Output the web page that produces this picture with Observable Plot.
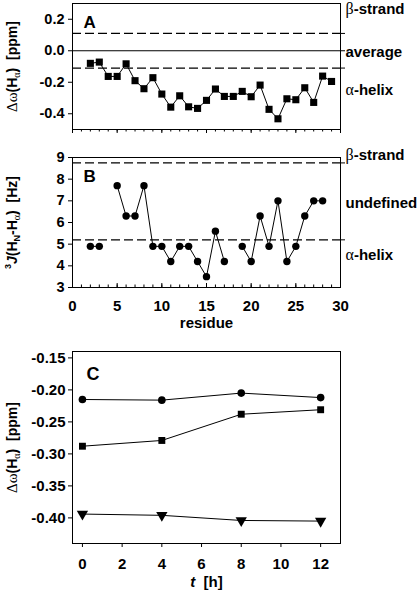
<!DOCTYPE html>
<html>
<head>
<meta charset="utf-8">
<script src="https://cdn.jsdelivr.net/npm/d3@7"></script>
<script src="https://cdn.jsdelivr.net/npm/@observablehq/plot@0.6"></script>
<style>
  html, body { margin: 0; padding: 0; background: #fff; }
  #wrap { position: relative; width: 420px; height: 591px; overflow: hidden; background: #fff; }
  #wrap > svg { position: absolute; left: 0; }
  #wrap text, #wrap tspan { fill: #000; }
</style>
</head>
<body>
<div id="wrap"></div>
<script>
// ---------- Panel A data ----------
const residuesA = [2,3,4,5,6,7,8,9,10,11,12,13,14,15,16,17,18,19,20,21,22,23,24,25,26,27,28,29];
const shiftA = [-0.08,-0.072,-0.163,-0.163,-0.083,-0.19,-0.241,-0.171,-0.275,-0.358,-0.286,-0.356,-0.366,-0.315,-0.243,-0.29,-0.29,-0.258,-0.292,-0.218,-0.372,-0.432,-0.305,-0.311,-0.235,-0.328,-0.161,-0.195];
const thresholdsA = [0.11, -0.11];
const rightLabelsA = ["β-strand", "average", "α-helix"];
const rightLabelYA = [0.262, -0.01, -0.248];
const yTicksA = [-0.4, -0.2, 0, 0.2];

// ---------- Panel B data ----------
const residuesB = [2,3,5,6,7,8,9,10,11,12,13,14,15,16,17,19,20,21,22,23,24,25,26,27,28];
const couplingB = [4.9,4.9,7.7,6.3,6.3,7.7,4.9,4.9,4.2,4.9,4.9,4.2,3.5,5.6,4.2,4.9,4.2,6.3,4.9,7.0,4.2,4.9,6.3,7.0,7.0];
const thresholdsB = [8.75, 5.2];
const rightLabelsB = ["β-strand", "undefined", "α-helix"];
const rightLabelYB = [9.1, 6.9, 4.5];
const yTicksB = [3,4,5,6,7,8,9];
const xTicksResidue = [0,5,10,15,20,25,30];

// ---------- Panel C data ----------
const timesC = [0, 4, 8, 12];
const circleC = [-0.215, -0.216, -0.205, -0.212];
const squareC = [-0.288, -0.279, -0.238, -0.231];
const triangleC = [-0.394, -0.396, -0.404, -0.405];
const yTicksC = [-0.40, -0.35, -0.30, -0.25, -0.20, -0.15];
const xTicksC = [0, 2, 4, 6, 8, 10, 12];

// ---------- helpers ----------
const SANS = "Liberation Sans, Arial, Helvetica, sans-serif";
const SERIF = "Liberation Serif, Times New Roman, serif";
const baseStyle = {fontFamily: SANS, fontSize: "14.5px", fontWeight: "bold", background: "white", overflow: "visible", color: "black"};
const blank = () => "";

function rich(svg, key, parts) {
  d3.select(svg).selectAll("text").filter(function () { return this.textContent === key; }).each(function () {
    const t = d3.select(this);
    t.text("");
    let shift = 0;
    for (const p of parts) {
      const ts = t.append("tspan").text(p.t).attr("fill", "black");
      const s = p.s || 0;
      if (s !== shift) { ts.attr("dy", s - shift); shift = s; }
      if (p.font) ts.attr("font-family", p.font);
      if (p.w) ts.attr("font-weight", p.w);
      if (p.size) ts.attr("font-size", p.size);
      if (p.style) ts.attr("font-style", p.style);
    }
  });
}
function greekLabel(svg, key) {
  rich(svg, key, [{t: key[0], font: SERIF, w: "normal", size: 16}, {t: key.slice(1)}]);
}
const dwParts = [
  {t: "Δω", font: SERIF, w: "normal", size: 15},
  {t: "(H"},
  {t: "α", font: SERIF, w: "normal", size: 10, s: 3},
  {t: ")", s: 0},
  {t: "\u00a0\u00a0[ppm]"}
];
const yLabelOpts = {frameAnchor: "left", textAnchor: "middle", dx: -60, rotate: -90, fontSize: 14, fill: "black"};

const wrap = document.getElementById("wrap");

// ---------- Panel A ----------
const dataA = residuesA.map((r, i) => ({residue: r, value: shiftA[i]}));
const labA = rightLabelsA.map((l, i) => ({label: l, y: rightLabelYA[i]}));
const plotA = Plot.plot({
  width: 420, height: 140,
  marginLeft: 72, marginRight: 80, marginTop: 3, marginBottom: 11,
  style: baseStyle,
  x: {domain: [0, 30]},
  y: {domain: [-0.5, 0.3]},
  marks: [
    Plot.ruleY([0], {stroke: "black", strokeWidth: 1}),
    Plot.ruleY(thresholdsA, {stroke: "black", strokeWidth: 1.2, strokeDasharray: "9,4"}),
    Plot.line(dataA, {x: "residue", y: "value", stroke: "black", strokeWidth: 1}),
    Plot.dot(dataA, {x: "residue", y: "value", symbol: "square", r: 4, fill: "black", stroke: "none"}),
    Plot.axisY({ticks: yTicksA, tickFormat: d => d.toFixed(1), tickSize: 4, tickPadding: 4, label: null}),
    Plot.axisY({anchor: "right", ticks: [thresholdsA[0], 0, thresholdsA[1]], tickSize: 4, tickFormat: blank, label: null}),
    Plot.axisX({ticks: d3.range(0, 31), tickSize: 2.5, tickFormat: blank, label: null}),
    Plot.axisX({ticks: xTicksResidue, tickSize: 4, tickFormat: blank, label: null}),
    Plot.frame({stroke: "black", strokeWidth: 1}),
    Plot.text(labA, {x: 30, y: "y", text: "label", dx: 5, textAnchor: "start", fontSize: 15, fill: "black"}),
    Plot.text(["A"], {frameAnchor: "top-left", dx: 11, dy: 12, fontSize: 17, fill: "black"}),
    Plot.text(["Δω(Hα)  [ppm]"], yLabelOpts)
  ]
});
plotA.style.top = "0px";
wrap.appendChild(plotA);
rightLabelsA.forEach(l => { if (/^[αβ]/.test(l)) greekLabel(plotA, l); });
rich(plotA, "Δω(Hα)  [ppm]", dwParts);

// ---------- Panel B ----------
let seg = 0;
const dataB = residuesB.map((r, i) => {
  if (i > 0 && r - residuesB[i - 1] > 1) seg++;
  return {residue: r, value: couplingB[i], seg};
});
const labB = rightLabelsB.map((l, i) => ({label: l, y: rightLabelYB[i]}));
const jKey = "3J(HN-Hα)  [Hz]";
const plotB = Plot.plot({
  width: 420, height: 190,
  marginLeft: 72, marginRight: 80, marginTop: 17, marginBottom: 43,
  style: baseStyle,
  x: {domain: [0, 30]},
  y: {domain: [3, 9]},
  marks: [
    Plot.ruleY(thresholdsB, {stroke: "black", strokeWidth: 1.2, strokeDasharray: "9,4"}),
    Plot.line(dataB, {x: "residue", y: "value", z: "seg", stroke: "black", strokeWidth: 1}),
    Plot.dot(dataB, {x: "residue", y: "value", r: 3.7, fill: "black", stroke: "none"}),
    Plot.axisY({ticks: yTicksB, tickFormat: d => String(d), tickSize: 4, tickPadding: 4, label: null}),
    Plot.axisY({anchor: "right", ticks: thresholdsB, tickSize: 4, tickFormat: blank, label: null}),
    Plot.axisX({ticks: d3.range(0, 31), tickSize: -2.5, tickFormat: blank, label: null}),
    Plot.axisX({ticks: xTicksResidue, tickSize: -4, tickFormat: blank, label: null}),
    Plot.axisX({ticks: xTicksResidue, tickSize: 0, tickPadding: 13, tickFormat: d => String(d), label: null, fontSize: 15}),
    Plot.frame({stroke: "black", strokeWidth: 1}),
    Plot.text(["residue"], {frameAnchor: "bottom", lineAnchor: "middle", dy: 36, fontSize: 15, fill: "black"}),
    Plot.text(labB, {x: 30, y: "y", text: "label", dx: 5, textAnchor: "start", fontSize: 15, fill: "black"}),
    Plot.text(["B"], {frameAnchor: "top-left", dx: 11, dy: 12, fontSize: 17, fill: "black"}),
    Plot.text([jKey], yLabelOpts)
  ]
});
plotB.style.top = "140px";
wrap.appendChild(plotB);
rightLabelsB.forEach(l => { if (/^[αβ]/.test(l)) greekLabel(plotB, l); });
rich(plotB, jKey, [
  {t: "3", size: 9, s: -6},
  {t: "J", style: "italic", s: 0},
  {t: "(H"},
  {t: "N", size: 9, s: 3},
  {t: "-H", s: 0},
  {t: "α", font: SERIF, w: "normal", size: 10, s: 3},
  {t: ")", s: 0},
  {t: "\u00a0\u00a0[Hz]"}
]);

// ---------- Panel C ----------
const seriesC = [
  {name: "circle", values: circleC, symbol: "circle", rotate: 0, r: 3.8},
  {name: "square", values: squareC, symbol: "square", rotate: 0, r: 3.9},
  {name: "triangle", values: triangleC, symbol: "triangle", rotate: 180, r: 4.2}
];
const dataC = seriesC.flatMap(s => timesC.map((t, i) => ({t, value: s.values[i], series: s.name})));
const plotC = Plot.plot({
  width: 420, height: 261,
  marginLeft: 72, marginRight: 80, marginTop: 21, marginBottom: 48,
  style: baseStyle,
  x: {domain: [-0.5, 13]},
  y: {domain: [-0.44, -0.14]},
  marks: [
    Plot.line(dataC, {x: "t", y: "value", z: "series", stroke: "black", strokeWidth: 1}),
    ...seriesC.map(s => Plot.dot(dataC.filter(d => d.series === s.name), {x: "t", y: "value", symbol: s.symbol, rotate: s.rotate, r: s.r, fill: "black", stroke: "none"})),
    Plot.axisY({ticks: yTicksC, tickFormat: d => d.toFixed(2), tickSize: 4, tickPadding: 3, label: null, fontSize: 15}),
    Plot.axisX({ticks: xTicksC, tickSize: 4, tickPadding: 11, tickFormat: d => String(d), label: null, fontSize: 15}),
    Plot.frame({stroke: "black", strokeWidth: 1}),
    Plot.text(["t  [h]"], {frameAnchor: "bottom", lineAnchor: "middle", dy: 39, fontSize: 15, fill: "black"}),
    Plot.text(["C"], {frameAnchor: "top-left", dx: 14, dy: 16, fontSize: 18, fill: "black"}),
    Plot.text(["Δω(Hα)  [ppm]"], yLabelOpts)
  ]
});
plotC.style.top = "330px";
wrap.appendChild(plotC);
rich(plotC, "t  [h]", [{t: "t", style: "italic"}, {t: "\u00a0\u00a0[h]"}]);
rich(plotC, "Δω(Hα)  [ppm]", dwParts);
</script>
</body>
</html>
